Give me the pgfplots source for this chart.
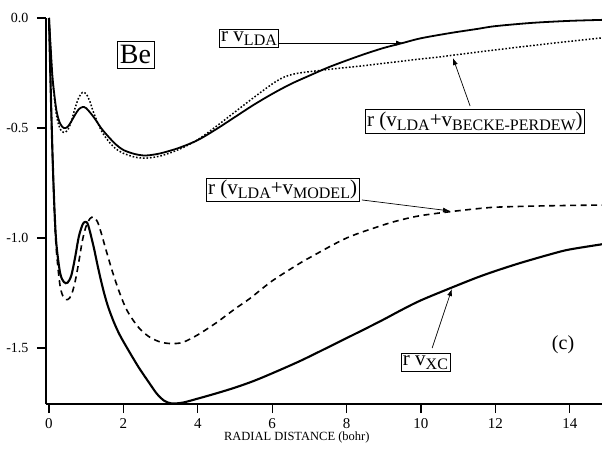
\documentclass[border=0pt]{standalone}
\usepackage{pgfplots}
\pgfplotsset{compat=1.18}
\usepackage{fontspec}
\setmainfont{Liberation Serif}
\usetikzlibrary{arrows.meta}
\newcommand\lab[1]{\fontsize{21}{23}\selectfont #1}
\newcommand\sub[1]{\raisebox{-0.45ex}{\fontsize{16}{16}\selectfont #1}}
\begin{document}
\begin{tikzpicture}
\useasboundingbox (0,0) rectangle (602pt,450pt);
\begin{axis}[
  at={(46pt,46pt)}, anchor=south west,
  scale only axis, width=556pt, height=386pt,
  xmin=-0.0806, xmax=14.866, ymin=-1.7545, ymax=0,
  axis x line=bottom, axis y line=left,
  axis line style={-, line width=1.3pt},
  tick align=outside, major tick length=9pt,
  tick style={line width=1.1pt, black},
  xtick={0,2,4,6,8,10,12,14},
  ytick={-1.5,-1,-0.5,0},
  yticklabels={-1.5,-1.0,-0.5,0.0},
  /pgf/number format/assume math mode=true,
  xticklabel style={font=\fontsize{15}{16}\selectfont, yshift=-2pt},
  yticklabel style={font=\fontsize{14}{15}\selectfont, xshift=-5pt},
  xlabel={RADIAL DISTANCE (bohr)},
  xlabel style={at={(axis description cs:0.451,0)}, anchor=center, yshift=-33pt, font=\fontsize{12.5}{13}\selectfont},
  clip=true,
]
% r v_LDA
\addplot[black, line width=1.8pt, smooth] coordinates {
(0,0) (0.05,-0.15) (0.1,-0.28) (0.2,-0.42) (0.3,-0.48) (0.4,-0.50) (0.5,-0.495)
(0.6,-0.47) (0.7,-0.44) (0.8,-0.415) (0.9,-0.405) (1.0,-0.41) (1.2,-0.45)
(1.4,-0.50) (1.6,-0.54) (1.8,-0.575) (2.0,-0.60) (2.3,-0.618) (2.6,-0.625)
(3.0,-0.615) (3.5,-0.59) (4.0,-0.555) (4.5,-0.505) (5.0,-0.45) (5.5,-0.395)
(6.0,-0.345) (6.5,-0.30) (7.0,-0.262) (7.5,-0.225) (8.0,-0.193) (8.5,-0.163)
(9.0,-0.136) (9.5,-0.114) (10,-0.092) (10.8,-0.068) (11.5,-0.05) (12,-0.037)
(13,-0.022) (14,-0.013) (15,-0.008)};
% r (v_LDA + v_BP)
\addplot[black, line width=1.5pt, dash pattern=on 1.6pt off 1.9pt, smooth] coordinates {
(0,0) (0.05,-0.15) (0.1,-0.29) (0.2,-0.44) (0.3,-0.505) (0.4,-0.52) (0.5,-0.51)
(0.6,-0.47) (0.7,-0.41) (0.8,-0.362) (0.9,-0.338) (1.0,-0.345) (1.1,-0.38)
(1.2,-0.43) (1.4,-0.51) (1.6,-0.56) (1.8,-0.595) (2.0,-0.615) (2.3,-0.632)
(2.6,-0.637) (3.0,-0.627) (3.5,-0.597) (4.0,-0.553) (4.5,-0.492) (5.0,-0.427)
(5.5,-0.362) (6.0,-0.300) (6.3,-0.270) (6.6,-0.254) (7.0,-0.244) (7.5,-0.234)
(8.0,-0.225) (8.5,-0.216) (9.0,-0.206) (9.5,-0.196) (10,-0.186) (10.5,-0.177)
(11,-0.166) (12,-0.145) (13,-0.125) (14,-0.106) (15,-0.088)};
% r (v_LDA + v_MODEL)
\addplot[black, line width=1.6pt, dash pattern=on 6pt off 4.5pt, smooth] coordinates {
(0,0) (0.05,-0.35) (0.1,-0.66) (0.15,-0.9) (0.2,-1.06) (0.3,-1.22) (0.4,-1.272)
(0.5,-1.28) (0.6,-1.26) (0.7,-1.2) (0.8,-1.11) (0.9,-1.01) (1.0,-0.945)
(1.1,-0.912) (1.2,-0.905) (1.3,-0.925) (1.4,-0.975) (1.5,-1.035) (1.7,-1.15)
(1.9,-1.25) (2.1,-1.33) (2.4,-1.405) (2.7,-1.45) (3.0,-1.473) (3.3,-1.48)
(3.6,-1.474) (4.0,-1.44) (4.5,-1.385) (5.0,-1.322) (5.4,-1.275) (6.0,-1.195)
(6.75,-1.114) (7.0,-1.09) (8.0,-1.0) (9.0,-0.94) (9.5,-0.916) (10,-0.898)
(10.8,-0.88) (11.5,-0.867) (12,-0.86) (13,-0.855) (14,-0.852) (15,-0.85)};
% r v_XC
\addplot[black, line width=2.1pt, smooth] coordinates {
(0,0) (0.05,-0.35) (0.1,-0.65) (0.15,-0.88) (0.2,-1.03) (0.3,-1.16) (0.4,-1.2)
(0.5,-1.203) (0.6,-1.17) (0.7,-1.09) (0.8,-0.995) (0.9,-0.94) (0.97,-0.927)
(1.05,-0.94) (1.2,-1.04) (1.3,-1.12) (1.4,-1.195) (1.5,-1.262) (1.6,-1.318)
(1.75,-1.385) (1.9,-1.44) (2.1,-1.5) (2.4,-1.585) (2.7,-1.66) (2.9,-1.708)
(3.1,-1.74) (3.3,-1.752) (3.6,-1.748) (4.0,-1.73) (4.5,-1.706) (5.0,-1.68)
(5.5,-1.65) (6.0,-1.615) (6.75,-1.559) (7.5,-1.497) (8.0,-1.455) (8.5,-1.413)
(9.0,-1.37) (9.5,-1.325) (10,-1.283) (10.83,-1.225) (11.5,-1.18) (12,-1.15)
(12.66,-1.114) (13.5,-1.073) (14,-1.052) (15,-1.025)};

% annotations
\node[draw, line width=0.8pt, inner xsep=3pt, inner ysep=4pt] at (axis cs:2.325,-0.168) {\fontsize{28}{30}\selectfont Be};
\node[draw, line width=0.8pt, inner sep=2pt, anchor=east] (lda) at (axis cs:6.19,-0.093) {\lab{r v\sub{LDA}}};
\draw[line width=0.7pt, -{Latex[length=7pt,width=5pt]}] (axis cs:6.19,-0.114) -- (axis cs:9.52,-0.114);
\node[draw, line width=0.8pt, inner sep=2pt] at (axis cs:11.45,-0.470) {\lab{r (v\sub{LDA}+v\sub{BECKE-PERDEW})}};
\draw[line width=0.7pt, -{Latex[length=7pt,width=5pt]}] (axis cs:11.32,-0.40) -- (axis cs:10.86,-0.182);
\node[draw, line width=0.8pt, inner sep=2pt] at (axis cs:6.28,-0.78) {\lab{r (v\sub{LDA}+v\sub{MODEL})}};
\draw[line width=0.7pt, -{Latex[length=7pt,width=5pt]}] (axis cs:8.41,-0.827) -- (axis cs:10.78,-0.877);
\node[draw, line width=0.8pt, inner sep=2pt] at (axis cs:10.12,-1.566) {\lab{r v\sub{XC}}};
\draw[line width=0.7pt, -{Latex[length=7pt,width=5pt]}] (axis cs:10.30,-1.50) -- (axis cs:10.83,-1.232);
\node at (axis cs:13.82,-1.486) {\fontsize{20}{22}\selectfont (c)};
\end{axis}
\end{tikzpicture}
\end{document}
